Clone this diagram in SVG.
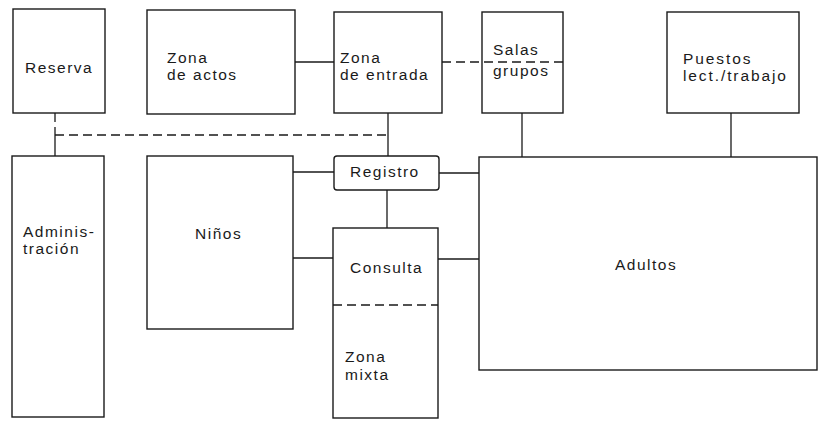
<svg xmlns="http://www.w3.org/2000/svg" width="821" height="421" viewBox="0 0 821 421">
<style>
.box{fill:none;stroke:#1a1a1a;stroke-width:1.4}
.ln{fill:none;stroke:#1a1a1a;stroke-width:1.3}
.dash{fill:none;stroke:#1a1a1a;stroke-width:1.3;stroke-dasharray:9 5}
text{font-family:"Liberation Sans",Arial,sans-serif;font-size:15.5px;fill:#1a1a1a;letter-spacing:1.5px}
</style>
<rect width="821" height="421" fill="#ffffff"/>
<g id="connectors">
<line class="ln" x1="295" y1="62" x2="334" y2="62"/>
<line class="dash" x1="442" y1="62" x2="563" y2="62"/>
<line class="dash" x1="55" y1="113" x2="55" y2="135"/>
<line class="ln" x1="55" y1="135" x2="55" y2="156"/>
<line class="dash" x1="55" y1="135" x2="388" y2="135"/>
<line class="ln" x1="388" y1="113" x2="388" y2="156"/>
<line class="ln" x1="293" y1="172" x2="334" y2="172"/>
<line class="ln" x1="439" y1="173" x2="479" y2="173"/>
<line class="ln" x1="387" y1="190" x2="387" y2="228"/>
<line class="ln" x1="293" y1="258" x2="333" y2="258"/>
<line class="ln" x1="438" y1="259" x2="479" y2="259"/>
<line class="ln" x1="522" y1="113" x2="522" y2="157"/>
<line class="ln" x1="731" y1="113" x2="731" y2="157"/>
<line class="dash" x1="333" y1="305" x2="438" y2="305"/>
</g>
<g id="reserva"><rect class="box" x="13" y="9" width="92" height="104"/><text x="25" y="73">Reserva</text></g>
<g id="zona-actos"><rect class="box" x="147" y="10" width="148" height="104"/><text x="167" y="62.5">Zona</text><text x="167" y="79.5">de actos</text></g>
<g id="zona-entrada"><rect class="box" x="334" y="12" width="108" height="101"/><text x="340" y="63">Zona</text><text x="340" y="80">de entrada</text></g>
<g id="salas-grupos"><rect class="box" x="482" y="12" width="81" height="101"/><text x="493" y="55">Salas</text><text x="493" y="76">grupos</text></g>
<g id="puestos"><rect class="box" x="667" y="12" width="132" height="101"/><text x="683" y="63.5" style="letter-spacing:1.9px">Puestos</text><text x="683" y="80.5" style="letter-spacing:1.9px">lect./trabajo</text></g>
<g id="administracion"><rect class="box" x="12" y="156" width="92" height="261"/><text x="23" y="237">Adminis-</text><text x="23" y="254">tración</text></g>
<g id="ninos"><rect class="box" x="147" y="156" width="146" height="173"/><text x="195" y="239">Niños</text></g>
<g id="registro"><rect class="box" x="334" y="156" width="105" height="34" rx="3"/><text x="350" y="177">Registro</text></g>
<g id="consulta-zona-mixta"><rect class="box" x="333" y="228" width="105" height="190"/><text x="350" y="273">Consulta</text><text x="345" y="362">Zona</text><text x="345" y="380">mixta</text></g>
<g id="adultos"><rect class="box" x="479" y="157" width="338" height="213"/><text x="615" y="270">Adultos</text></g>
</svg>
